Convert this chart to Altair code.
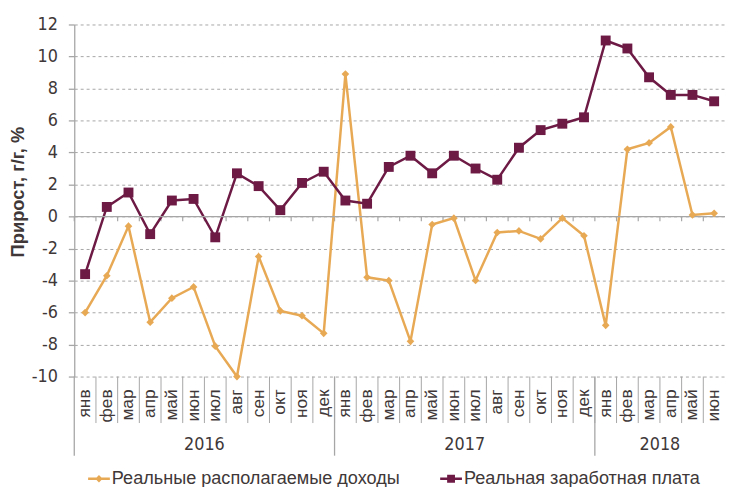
import altair as alt
import pandas as pd

months = ["янв", "фев", "мар", "апр", "май", "июн", "июл", "авг", "сен", "окт", "ноя", "дек",
          "янв", "фев", "мар", "апр", "май", "июн", "июл", "авг", "сен", "окт", "ноя", "дек",
          "янв", "фев", "мар", "апр", "май", "июн"]
years = ["2016"] * 12 + ["2017"] * 12 + ["2018"] * 6
income = [-6.0, -3.7, -0.6, -6.6, -5.1, -4.4, -8.1, -10.0, -2.5, -5.9, -6.2, -7.3,
          8.9, -3.8, -4.0, -7.8, -0.5, -0.1, -4.0, -1.0, -0.9, -1.4, -0.1, -1.2,
          -6.8, 4.2, 4.6, 5.6, 0.1, 0.2]
wages = [-3.6, 0.6, 1.5, -1.1, 1.0, 1.1, -1.3, 2.7, 1.9, 0.4, 2.1, 2.8,
         1.0, 0.8, 3.1, 3.8, 2.7, 3.8, 3.0, 2.3, 4.3, 5.4, 5.8, 6.2,
         11.0, 10.5, 8.7, 7.6, 7.6, 7.2]
series_names = ["Реальные располагаемые доходы", "Реальная заработная плата"]
colors = ["#E8A955", "#6D1A45"]
y_ticks = [-10, -8, -6, -4, -2, 0, 2, 4, 6, 8, 10, 12]

W, H = 658, 356
GREY = "#A6A6A6"
TXT = "#403838"
NARROW = "Liberation Sans Narrow, DejaVu Sans Condensed, Liberation Sans, sans-serif"
REG = "Liberation Sans, Arial, sans-serif"

df = pd.DataFrame({"idx": list(range(len(months))), "month": months, "year": years,
                   series_names[0]: income, series_names[1]: wages})
long = df.melt(id_vars=["idx", "month", "year"], value_vars=series_names,
               var_name="series", value_name="value")

xs = alt.Scale(domain=[0, len(months)], nice=False, zero=False)
ys = alt.Scale(domain=[y_ticks[0], y_ticks[-1]], nice=False, zero=False)
cs = alt.Scale(domain=series_names, range=colors)

yaxis = alt.Axis(values=y_ticks, labelExpr="toString(datum.value)",
                 grid=True, gridDash=[3, 3], gridColor=GREY, gridWidth=1,
                 domainColor=GREY, domainWidth=1.3, tickColor=GREY, tickSize=6, tickWidth=1.3,
                 labelPadding=11, labelFontSize=18, labelFont=NARROW, labelColor=TXT,
                 title="Прирост, г/г, %", titleFontSize=18.5, titleFont=REG, titleFontWeight="bold",
                 titleColor=TXT, titleAngle=270, titleX=-57, titleY=235, titleAlign="left",
                 titleBaseline="middle")

leg = alt.Legend(orient="none", legendX=14, legendY=448, direction="horizontal", title=None,
                 symbolSize=484, symbolOpacity=1, symbolStrokeWidth=0, labelLimit=600,
                 labelOffset=2, columnPadding=40, labelFontSize=18.3, labelFont=REG,
                 labelColor=TXT, padding=0)


def X(field):
    return alt.X(field, scale=xs, axis=None)


def Y(field):
    return alt.Y(field, scale=ys, axis=yaxis)


def C():
    return alt.Color("series:N", scale=cs, legend=leg)


base = alt.Chart(df)
blong = alt.Chart(long)

zero_rule = base.transform_filter("datum.idx == 0").mark_rule(color=GREY, strokeWidth=1.3).encode(
    y=alt.YDatum(0, scale=ys, axis=yaxis))

zero_ticks = base.mark_rule(color=GREY, strokeWidth=1.2).encode(
    x=X("idx:Q"), y=alt.YDatum(0, scale=ys, axis=yaxis), y2=alt.Y2Datum(-0.3))

month_sep = base.transform_filter("datum.idx > 0").mark_rule(color=GREY, strokeWidth=1).encode(
    x=X("idx:Q"), y=alt.value(H), y2=alt.value(H + 47))

year_sep = base.transform_filter("datum.month == 'янв'").mark_rule(color=GREY, strokeWidth=1.3).encode(
    x=X("idx:Q"), y=alt.value(H), y2=alt.value(H + 80))

month_lbl = base.transform_calculate(pos="datum.idx + 0.5").mark_text(
    angle=270, align="right", baseline="middle", fontSize=17.5, font=REG, color=TXT).encode(
    x=X("pos:Q"), y=alt.value(H + 13), text="month:N")

year_lbl = base.transform_aggregate(m="mean(idx)", groupby=["year"]).transform_calculate(
    pos="datum.m + 0.5").mark_text(align="center", baseline="middle", fontSize=18, font=NARROW,
                                   color=TXT).encode(
    x=X("pos:Q"), y=alt.value(H + 69), text="year:N")

lines = blong.transform_calculate(pos="datum.idx + 0.5").mark_line(strokeWidth=2.5).encode(
    x=X("pos:Q"), y=Y("value:Q"), color=C(), order=alt.Order("idx:Q"), detail="series:N")

pts_inc = blong.transform_filter(alt.datum.series == series_names[0]).transform_calculate(
    pos="datum.idx + 0.5").mark_point(shape="diamond", filled=True, size=60, opacity=1).encode(
    x=X("pos:Q"), y=Y("value:Q"), color=C())

pts_wag = blong.transform_filter(alt.datum.series == series_names[1]).transform_calculate(
    pos="datum.idx + 0.5").mark_point(shape="square", filled=True, size=100, opacity=1).encode(
    x=X("pos:Q"), y=Y("value:Q"), color=C())

legend_paths = [
    "M-1,-0.11H1V0.11H-1Z M0,-0.34L0.34,0L0,0.34L-0.34,0Z",
    "M-1,-0.11H1V0.11H-1Z M-0.36,-0.36H0.36V0.36H-0.36Z",
]
legend_layer = blong.mark_point(filled=True, opacity=0, size=1).encode(
    x=X("idx:Q"), y=Y("value:Q"), color=C(),
    shape=alt.Shape("series:N", scale=alt.Scale(domain=series_names, range=legend_paths), legend=leg))

chart = alt.layer(zero_ticks, month_sep, year_sep, month_lbl, year_lbl, lines, zero_rule,
                  pts_inc, pts_wag, legend_layer).properties(
    width=W, height=H, autosize=alt.AutoSizeParams(type="none"),
    padding={"left": 67, "top": 14, "right": 0, "bottom": 109},
    background="white").configure_view(stroke=None)

chart.save("out.html", embed_options={"renderer": "svg", "actions": False})
